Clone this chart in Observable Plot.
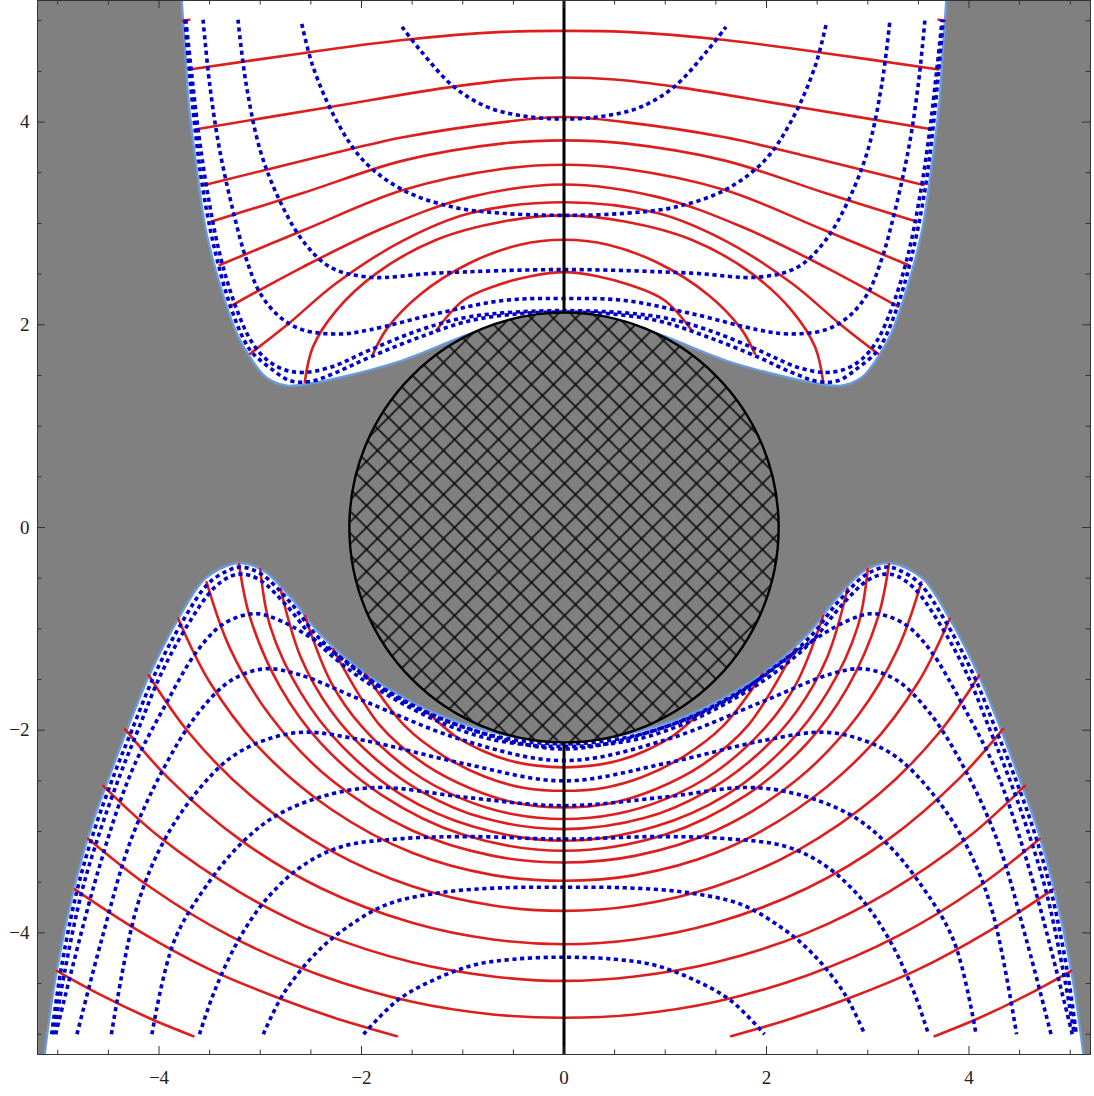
<!DOCTYPE html>
<html><head><meta charset="utf-8">
<script src="https://cdn.jsdelivr.net/npm/d3@7"></script>
<script src="https://cdn.jsdelivr.net/npm/@observablehq/plot@0.6"></script>
<style>body{margin:0;background:#fff}</style>
</head><body><div id="chart"></div>
<script>
// ---------- data (curves symmetric about x = 0, left halves listed) ----------
const xDomain = [-5.2, 5.2];
const yDomain = [-5.2, 5.2];
const minorTicks = d3.range(-5, 5.01, 0.5);
const majorTicks = [-4, -2, 0, 2, 4];

// boundary of the upper allowed (white) region, left half, top -> centre
const upperBoundaryHalf = [[-3.78,5.5],[-3.775,5.2],[-3.74,4.7],[-3.71,4.22],[-3.63,3.56],[-3.53,2.90],[-3.35,2.24],[-3.23,1.91],[-3.10,1.68],[-2.94,1.48],[-2.74,1.40],[-2.51,1.42],[-2.21,1.48],[-1.59,1.65],[-0.93,1.91],[-0.435,2.06],[0,2.11]];
// boundary of the lower allowed region, left half, bottom -> centre
const lowerBoundaryHalf = [[-5.16,-5.5],[-5.13,-5.2],[-5.01,-4.375],[-4.845,-3.585],[-4.68,-2.99],[-4.48,-2.43],[-4.32,-2.005],[-4.09,-1.445],[-3.82,-0.92],[-3.56,-0.52],[-3.36,-0.39],[-3.20,-0.35],[-2.97,-0.425],[-2.70,-0.69],[-2.41,-1.05],[-2.08,-1.35],[-1.75,-1.58],[-1.255,-1.84],[-0.76,-2.005],[-0.27,-2.10],[0,-2.11]];

// hatched disc outline
const discPoints = [[2.12,0],[1.959,0.811],[1.499,1.499],[0.811,1.959],[0,2.12],[-0.811,1.959],[-1.499,1.499],[-1.959,0.811],[-2.12,0],[-1.959,-0.811],[-1.499,-1.499],[-0.811,-1.959],[0,-2.12],[0.811,-1.959],[1.499,-1.499],[1.959,-0.811]];

// black vertical axis segments (x = 0)
const axisSegments = [{x:0,y1:2.12,y2:5.2},{x:0,y1:-5.2,y2:-2.12}];

// upper region: solid red curves (left halves, boundary -> x=0)
const upperRed = [
 [[-3.70,4.52],[-2.58,4.68],[-1.59,4.81],[-0.60,4.89],[0,4.90]],
 [[-3.63,3.93],[-2.31,4.15],[-1.09,4.35],[-0.5,4.42],[0,4.44]],
 [[-3.55,3.38],[-2.41,3.66],[-1.59,3.85],[-0.60,4.00],[0,4.05]],
 [[-3.48,3.02],[-2.58,3.30],[-1.59,3.62],[-0.60,3.79],[0,3.82]],
 [[-3.40,2.59],[-2.58,2.93],[-1.59,3.33],[-0.60,3.54],[0,3.58]],
 [[-3.30,2.18],[-2.58,2.57],[-1.75,2.97],[-0.93,3.26],[0,3.385]],
 [[-3.10,1.715],[-2.74,1.995],[-2.25,2.41],[-1.59,2.83],[-0.93,3.10],[0,3.21]],
 [[-2.56,1.435],[-2.48,1.78],[-2.25,2.14],[-1.85,2.51],[-1.26,2.84],[-0.60,3.02],[0,3.08]],
 [[-1.885,1.715],[-1.75,1.96],[-1.42,2.30],[-0.93,2.61],[-0.435,2.79],[0,2.84]],
 [[-1.26,1.946],[-0.995,2.24],[-0.66,2.39],[-0.33,2.48],[0,2.52]]
];
// short red stubs at the top corners (left one; mirrored)
const upperRedStub = [[-3.765,5.0],[-3.70,5.01]];

// upper region: dotted blue curves (left halves)
const upperBlue = [
 [[-1.60,4.94],[-1.42,4.71],[-1.09,4.35],[-0.76,4.15],[-0.4,4.06],[0,4.03]],
 [[-2.59,4.97],[-2.48,4.55],[-2.25,4.02],[-1.98,3.62],[-1.59,3.33],[-1.09,3.16],[-0.60,3.10],[0,3.08]],
 [[-3.22,5.01],[-3.14,4.38],[-3.00,3.72],[-2.81,3.23],[-2.58,2.83],[-2.31,2.57],[-1.92,2.47],[-1.26,2.51],[0,2.545]],
 [[-3.565,5.01],[-3.50,4.38],[-3.40,3.72],[-3.23,2.97],[-3.135,2.64],[-3.00,2.31],[-2.81,2.08],[-2.58,1.95],[-2.21,1.91],[-1.92,1.95],[-1.26,2.11],[-0.60,2.24],[0,2.26]],
 [[-3.735,5.01],[-3.68,4.5],[-3.61,3.9],[-3.52,3.3],[-3.40,2.7],[-3.25,2.2],[-3.09,1.84],[-2.94,1.66],[-2.77,1.56],[-2.58,1.53],[-2.31,1.58],[-1.92,1.75],[-1.42,1.95],[-0.93,2.08],[0,2.14]],
 [[-3.745,5.01],[-3.70,4.5],[-3.64,3.9],[-3.56,3.3],[-3.44,2.7],[-3.30,2.2],[-3.16,1.85],[-3.07,1.715],[-2.91,1.58],[-2.71,1.45],[-2.51,1.44],[-2.25,1.53],[-1.92,1.68],[-1.42,1.88],[-0.93,2.04],[-0.435,2.11],[0,2.125]]
];

// lower region: solid red curves crossing x=0 (left halves)
const lowerRed = [
 [[-4.70,-3.07],[-4.1,-3.54],[-3.3,-4.03],[-2.4,-4.42],[-1.5,-4.68],[-0.7,-4.805],[0,-4.837]],
 [[-4.55,-2.55],[-4.0,-3.05],[-3.2,-3.60],[-2.4,-4.0],[-1.5,-4.29],[-0.7,-4.43],[0,-4.474]],
 [[-4.335,-1.99],[-3.9,-2.48],[-3.2,-3.08],[-2.4,-3.56],[-1.5,-3.90],[-0.7,-4.065],[0,-4.112]],
 [[-4.10,-1.46],[-3.7,-2.03],[-3.1,-2.64],[-2.3,-3.19],[-1.5,-3.54],[-0.7,-3.73],[0,-3.783]],
 [[-3.81,-0.90],[-3.5,-1.525],[-3.0,-2.185],[-2.3,-2.78],[-1.5,-3.21],[-0.7,-3.43],[0,-3.486]],
 [[-3.53,-0.54],[-3.3,-1.19],[-2.9,-1.86],[-2.3,-2.49],[-1.5,-2.99],[-0.7,-3.24],[0,-3.306]],
 [[-3.21,-0.36],[-3.1,-0.89],[-2.8,-1.58],[-2.4,-2.13],[-1.8,-2.64],[-1.0,-3.03],[0,-3.19]],
 [[-3.0,-0.41],[-2.9,-0.98],[-2.6,-1.63],[-2.2,-2.15],[-1.6,-2.64],[-0.9,-2.95],[0,-3.091]],
 [[-2.80,-0.605],[-2.6,-1.28],[-2.3,-1.81],[-1.9,-2.25],[-1.4,-2.61],[-0.8,-2.865],[0,-2.976]],
 [[-2.56,-0.87],[-2.3,-1.53],[-2.0,-1.96],[-1.5,-2.41],[-1.0,-2.68],[-0.5,-2.83],[0,-2.877]],
 [[-2.28,-1.20],[-1.82,-1.95],[-1.37,-2.34],[-0.91,-2.58],[-0.46,-2.72],[0,-2.762]],
 [[-1.96,-1.445],[-1.57,-1.96],[-1.18,-2.26],[-0.78,-2.46],[-0.39,-2.57],[0,-2.598]],
 [[-1.34,-1.83],[-1.07,-2.06],[-0.80,-2.205],[-0.54,-2.30],[-0.27,-2.35],[0,-2.367]]
];
// lower region: red curves ending at the bottom (left ones; mirrored)
const lowerRedOpen = [
 [[-5.01,-4.375],[-4.6,-4.60],[-4.1,-4.84],[-3.66,-5.02]],
 [[-4.83,-3.57],[-4.2,-3.98],[-3.5,-4.36],[-2.8,-4.65],[-2.2,-4.86],[-1.65,-5.02]]
];
// lower region: dotted blue curves (left halves, bottom -> x=0)
const lowerBlue = [
 [[-5.06,-5.0],[-4.97,-4.375],[-4.81,-3.585],[-4.64,-2.99],[-4.44,-2.43],[-4.27,-2.005],[-4.04,-1.445],[-3.77,-0.93],[-3.52,-0.56],[-3.33,-0.43],[-3.19,-0.39],[-2.99,-0.46],[-2.72,-0.72],[-2.43,-1.08],[-2.09,-1.38],[-1.75,-1.61],[-1.25,-1.87],[-0.76,-2.04],[-0.3,-2.12],[0,-2.135]],
 [[-5.04,-5.0],[-4.93,-4.375],[-4.76,-3.585],[-4.58,-2.99],[-4.38,-2.43],[-4.21,-2.005],[-3.98,-1.445],[-3.71,-0.95],[-3.46,-0.6],[-3.29,-0.48],[-3.17,-0.46],[-3.0,-0.52],[-2.74,-0.77],[-2.45,-1.12],[-2.1,-1.42],[-1.75,-1.65],[-1.25,-1.91],[-0.76,-2.08],[-0.3,-2.15],[0,-2.16]],
 [[-5.02,-5.0],[-4.61,-3.42],[-4.28,-2.43],[-3.95,-1.775],[-3.62,-1.215],[-3.36,-0.95],[-3.06,-0.85],[-2.80,-0.92],[-2.305,-1.215],[-1.65,-1.68],[-0.99,-1.97],[0,-2.186]],
 [[-4.81,-5.0],[-4.57,-4.08],[-4.28,-3.09],[-3.95,-2.37],[-3.62,-1.84],[-3.29,-1.51],[-2.96,-1.395],[-2.635,-1.445],[-1.98,-1.71],[-0.99,-2.10],[0,-2.30]],
 [[-4.47,-5.0],[-4.22,-3.75],[-3.95,-3.09],[-3.62,-2.60],[-3.29,-2.27],[-2.96,-2.10],[-2.57,-2.02],[-1.98,-2.10],[-0.99,-2.33],[0,-2.50]],
 [[-4.07,-5.0],[-3.85,-4.08],[-3.5,-3.49],[-3.16,-3.09],[-2.82,-2.83],[-2.3,-2.63],[-1.81,-2.565],[-0.99,-2.66],[0,-2.745]],
 [[-3.60,-5.0],[-3.45,-4.57],[-3.22,-4.08],[-2.95,-3.68],[-2.6,-3.35],[-2.2,-3.15],[-1.6,-3.07],[-0.9,-3.05],[0,-3.075]],
 [[-2.97,-5.0],[-2.77,-4.6],[-2.45,-4.2],[-2.15,-3.95],[-1.75,-3.72],[-1.2,-3.6],[-0.6,-3.555],[0,-3.55]],
 [[-1.98,-5.0],[-1.65,-4.67],[-1.3,-4.47],[-0.9,-4.32],[-0.5,-4.26],[0,-4.24]]
];

// ---------- build rows ----------
const mirrorHalf = half => half.concat(half.slice(0, -1).reverse().map(([x, y]) => [-x, y]));
const rows = (curves, tag) => curves.flatMap((c, i) => c.map(([x, y]) => ({x, y, id: tag + i})));
const bothSides = (curves) => curves.flatMap(c => [c, c.map(([x, y]) => [-x, y])]);

const upperRegion = mirrorHalf(upperBoundaryHalf).map(([x, y]) => ({x, y}));
const lowerRegion = mirrorHalf(lowerBoundaryHalf).map(([x, y]) => ({x, y}));
const discRows = discPoints.map(([x, y]) => ({x, y}));

const redRows = [
  ...rows(upperRed.map(mirrorHalf), "ur"),
  ...rows(bothSides([upperRedStub]), "us"),
  ...rows(lowerRed.map(mirrorHalf), "lr"),
  ...rows(bothSides(lowerRedOpen), "lo")
];
const blueRows = [
  ...rows(upperBlue.map(mirrorHalf), "ub"),
  ...rows(lowerBlue.map(mirrorHalf), "lb")
];

const W = 1094 - 37 - 4, H = 1096 - 0 - 42;
const fmt = d => d < 0 ? "\u2212" + (-d) : String(d);
const serif = "'Liberation Serif', 'DejaVu Serif', serif";
const minorOnly = minorTicks.filter(d => !majorTicks.includes(d));

const svg = Plot.plot({
  width: 1094, height: 1096,
  marginLeft: 37, marginRight: 4, marginTop: 0, marginBottom: 42,
  x: {domain: xDomain}, y: {domain: yDomain},
  style: {background: "white"},
  marks: [
    Plot.frame({fill: "#808080", stroke: "none"}),
    Plot.line(upperRegion, {x: "x", y: "y", fill: "white", stroke: "none", curve: "catmull-rom-closed", clip: true}),
    Plot.line(lowerRegion, {x: "x", y: "y", fill: "white", stroke: "none", curve: "catmull-rom-closed", clip: true}),
    Plot.line(upperRegion, {x: "x", y: "y", stroke: "#6b9bd9", strokeWidth: 2.4, curve: "catmull-rom", clip: true}),
    Plot.line(lowerRegion, {x: "x", y: "y", stroke: "#6b9bd9", strokeWidth: 2.4, curve: "catmull-rom", clip: true}),
    Plot.line(redRows, {x: "x", y: "y", z: "id", stroke: "#dc1e1e", strokeWidth: 2.6, curve: "catmull-rom", clip: true}),
    Plot.line(blueRows, {x: "x", y: "y", z: "id", stroke: "#0000c8", strokeWidth: 3.6, strokeDasharray: "4.2,3.6", strokeLinecap: "butt", strokeLinejoin: "miter", curve: "catmull-rom", clip: true}),
    Plot.ruleX(axisSegments, {x: "x", y1: "y1", y2: "y2", stroke: "black", strokeWidth: 3}),
    Plot.line(discRows, {x: "x", y: "y", fill: "url(#hatch)", stroke: "black", strokeWidth: 2.4, curve: "catmull-rom-closed"}),
    Plot.frame({stroke: "#333", strokeWidth: 1}),
    // inward ticks on all four sides
    Plot.tickX(minorOnly, {x: d => d, insetTop: H - 4.5, stroke: "#333"}),
    Plot.tickX(majorTicks, {x: d => d, insetTop: H - 8, stroke: "#333"}),
    Plot.tickX(minorOnly, {x: d => d, insetBottom: H - 4.5, stroke: "#333"}),
    Plot.tickX(majorTicks, {x: d => d, insetBottom: H - 8, stroke: "#333"}),
    Plot.tickY(minorOnly, {y: d => d, insetRight: W - 4.5, stroke: "#333"}),
    Plot.tickY(majorTicks, {y: d => d, insetRight: W - 8, stroke: "#333"}),
    Plot.tickY(minorOnly, {y: d => d, insetLeft: W - 4.5, stroke: "#333"}),
    Plot.tickY(majorTicks, {y: d => d, insetLeft: W - 8, stroke: "#333"}),
    Plot.axisX(majorTicks, {anchor: "bottom", tickSize: 0, tickPadding: 16, fontSize: 19, fontFamily: serif, tickFormat: fmt, label: null, color: "#222"}),
    Plot.axisY(majorTicks, {anchor: "left", tickSize: 0, tickPadding: 8, fontSize: 19, fontFamily: serif, tickFormat: fmt, label: null, color: "#222"})
  ]
});

const ns = "http://www.w3.org/2000/svg";
const defs = document.createElementNS(ns, "defs");
defs.innerHTML = '<pattern id="hatch" patternUnits="userSpaceOnUse" x="564" y="527" width="22" height="22"><rect width="22" height="22" fill="#808080"/><path d="M0,0L22,22M22,0L0,22" stroke="#000" stroke-width="1.5" fill="none"/></pattern>';
svg.insertBefore(defs, svg.firstChild);
document.getElementById("chart").appendChild(svg);
</script>
</body></html>
